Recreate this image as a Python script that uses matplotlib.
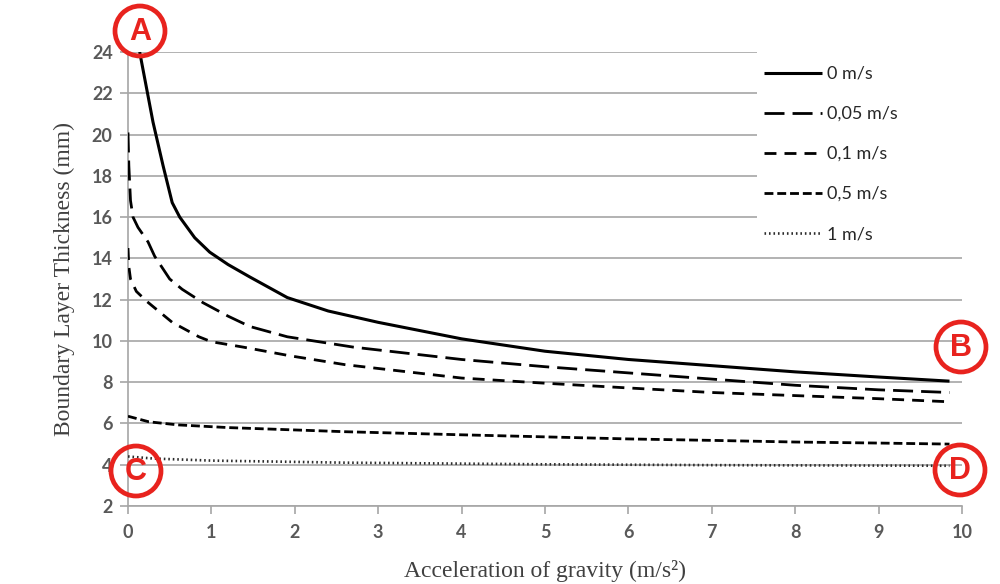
import matplotlib
matplotlib.use("Agg")
from matplotlib import pyplot as plt
from matplotlib.patches import Ellipse, Rectangle

# acceleration of gravity (m/s2) and boundary layer thickness (mm)
g_0 = [0.14, 0.3, 0.42, 0.53, 0.62, 0.8, 0.98, 1.2, 1.46, 1.91, 2.4, 3, 4, 5, 6, 7, 8, 9, 9.85]
d_0 = [24, 20.6, 18.5, 16.7, 16.0, 15.0, 14.3, 13.7, 13.1, 12.1, 11.45, 10.9, 10.1, 9.5, 9.1, 8.8, 8.5, 8.25, 8.05]

g_005 = [0, 0.01, 0.03, 0.06, 0.12, 0.24, 0.32, 0.5, 0.65, 0.9, 1.2, 1.46, 1.91, 2.7, 4, 5, 6, 7, 8, 9, 9.85]
d_005 = [20.1, 18.5, 16.8, 16.0, 15.5, 14.8, 14.1, 13.0, 12.5, 11.85, 11.2, 10.7, 10.2, 9.7, 9.1, 8.75, 8.45, 8.15, 7.85, 7.63, 7.5]

g_01 = [0, 0.01, 0.03, 0.1, 0.23, 0.35, 0.53, 0.85, 1.0, 1.38, 1.94, 2.6, 4, 5, 6, 7, 8, 9, 9.85]
d_01 = [14.5, 13.6, 13.0, 12.4, 11.9, 11.5, 10.9, 10.2, 9.96, 9.7, 9.28, 8.85, 8.2, 7.95, 7.72, 7.5, 7.35, 7.2, 7.05]

g_05 = [0, 0.25, 0.6, 1.2, 2.6, 4, 5, 6, 7, 8, 9, 9.85]
d_05 = [6.35, 6.08, 5.93, 5.8, 5.6, 5.45, 5.35, 5.25, 5.18, 5.1, 5.05, 5.0]

g_1 = [0, 0.3, 1, 2.6, 5, 7, 9.85]
d_1 = [4.4, 4.3, 4.2, 4.1, 4.02, 3.98, 3.95]

labels = ["0 m/s", "0,05 m/s", "0,1 m/s", "0,5 m/s", "1 m/s"]
xticks = list(range(0, 11))
yticks = list(range(2, 25, 2))

# circled markers: letter, centre in figure pixels
marks = [("A", 140, 31), ("B", 961, 347), ("C", 136, 471), ("D", 960, 470)]

W, H = 1000, 584
fig = plt.figure(figsize=(W / 100, H / 100), dpi=100)
ax = fig.add_axes([128 / W, 1 - 506 / H, (962 - 128) / W, (506 - 52) / H])

ax.plot(g_0, d_0, color="black", lw=2.2, solid_capstyle="butt", label=labels[0], zorder=3)
ax.plot(g_005, d_005, color="black", lw=2.0, linestyle=(0, (7.2, 2.9)), label=labels[1], zorder=3)
ax.plot(g_01, d_01, color="black", lw=2.0, linestyle=(0, (4.3, 2.9)), label=labels[2], zorder=3)
ax.plot(g_05, d_05, color="black", lw=2.0, linestyle=(0, (3.2, 1.4)), label=labels[3], zorder=3)
ax.plot(g_1, d_1, color="#2a2a2a", lw=1.9, linestyle=(0, (0.6, 1.1)), label=labels[4], zorder=3)

ax.set_xlim(0, 10)
ax.set_ylim(2, 24)
ax.set_xticks(xticks)
ax.set_yticks(yticks)
ax.grid(axis="y", color="#a6a6a6", lw=1.2)
ax.set_axisbelow(True)
for s in ["top", "right"]:
    ax.spines[s].set_visible(False)
for s in ["left", "bottom"]:
    ax.spines[s].set_color("#a6a6a6")
    ax.spines[s].set_linewidth(1.2)
ax.tick_params(colors="#a6a6a6", length=6, width=1.2, labelcolor="#595959",
               labelsize=13)
for t in ax.get_xticklabels() + ax.get_yticklabels():
    t.set_fontfamily("Lato")
    t.set_fontweight("bold")
ax.tick_params(axis="y", pad=5)
ax.tick_params(axis="x", pad=7)

ax.set_xlabel("Acceleration of gravity (m/s²)", family="Liberation Serif",
              fontsize=17, color="#404040", labelpad=14)
ax.set_ylabel("Boundary Layer Thickness (mm)", family="Liberation Serif",
              fontsize=17, color="#404040", labelpad=12)

# white box behind the legend hides the gridlines there
ax.add_patch(Rectangle((0.754, 0.555), 0.26, 0.46, transform=ax.transAxes,
                       facecolor="white", edgecolor="none", zorder=1, clip_on=False))
leg = ax.legend(loc="upper left", bbox_to_anchor=(0.743, 1.005), frameon=False,
                handlelength=3.2, labelspacing=1.33, handletextpad=0.3,
                prop={"family": "Lato", "size": 13})
for t in leg.get_texts():
    t.set_color("#262626")

for letter, cx, cy in marks:
    fig.add_artist(Ellipse((cx / W, 1 - cy / H), 50 / W, 50 / H, transform=fig.transFigure,
                           facecolor="none", edgecolor="#e8231e", lw=3.4, zorder=5))
    fig.text(cx / W, 1 - cy / H - 0.002, letter, color="#e8231e", fontsize=22, fontweight="bold",
             family="Liberation Sans", ha="center", va="center", zorder=6)

fig.savefig("out.png", dpi=100)
